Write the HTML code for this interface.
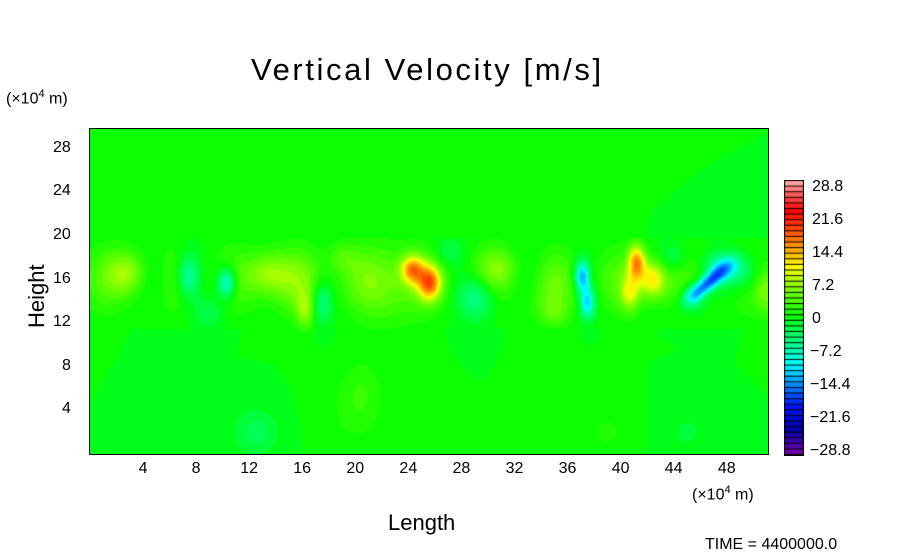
<!DOCTYPE html>
<html><head><meta charset="utf-8">
<style>
body{margin:0;background:#fff;width:904px;height:544px;overflow:hidden;position:relative;font-family:"Liberation Sans","DejaVu Sans",sans-serif;color:#000}
.t{position:absolute;white-space:nowrap}
.tick{font-size:16px}
</style></head>
<body>
<div class="t" style="left:251px;top:52px;font-size:31px;letter-spacing:2.6px">Vertical Velocity [m/s]</div>
<div class="t" style="left:6px;top:88px;font-size:16px">(×10<sup style="font-size:11px">4</sup> m)</div>
<div class="t" style="left:-2px;top:278px;font-size:22px;transform:rotate(-90deg);transform-origin:38px 12px">Height</div>
<div class="t" style="left:388px;top:510px;font-size:22px">Length</div>
<div class="t" style="left:692px;top:484px;font-size:16px">(×10<sup style="font-size:11px">4</sup> m)</div>
<div class="t" style="left:705px;top:536px;font-size:16px">TIME = 4400000.0</div>
<div id="ticks"></div>
<canvas id="plot" width="678" height="325" style="position:absolute;left:90px;top:129px"></canvas>
<div style="position:absolute;left:89px;top:128px;width:678px;height:325px;border:1px solid #000"></div>
<canvas id="cbar" width="20" height="276" style="position:absolute;left:784px;top:180px"></canvas>
<div id="cbl"></div>
<script>
// data
const xTicks=[4,8,12,16,20,24,28,32,36,40,44,48];
const yTicks=[4,8,12,16,20,24,28];
const cbTicks=[28.8,21.6,14.4,7.2,0,-7.2,-14.4,-21.6,-28.8];
// blob features: center x (1e4 m), center height, amplitude (m/s), spread x, spread h
const blobX=[2.8,7.4,10.3,13.3,16.2,17.5,24.3,25.6,22.5,29.2,33,37.1,37.5,41.2,42.4,40.7,46.6,47.8,45.4,51,20,5,34,15,31,49,12.5,20.5,39,45,9,19,27,35,44];
const blobH=[16.6,16.3,15.7,16.6,13.2,13.9,16.9,15.7,15.5,14.4,16,16.3,13.9,17.6,16,14.8,15.7,17.2,14.4,15,4,16,15,16,17,16.5,2,6,2,2,13,18,18.5,13,18];
const blobV=[6,-8,-11,5,6,-6,13,15,4,-7,-3,-14,-12,14,11,8,-16,-7,-7,5,1.5,-3,2.5,3,4,-6,-3,1.5,1.5,-1.5,-3,3,-3,3,-4];
const blobSX=[1.0,0.6,0.5,1.0,0.5,0.5,0.6,0.6,1.6,1.0,1.2,0.4,0.4,0.45,0.7,0.5,0.6,1.0,0.6,0.6,1.6,0.8,1.6,1.6,1.2,1.2,1.2,1.0,1.0,1.0,0.8,0.8,0.8,0.8,0.8];
const blobSH=[1.4,1.4,1.0,1.3,1.2,1.3,0.9,1.1,2.5,1.4,1.8,1.0,1.0,1.1,1.2,1.2,1.1,0.9,0.9,1.4,2.5,1.8,1.8,1.8,1.3,1.3,1.5,2.0,1.3,1.3,1,1,1,1,1];
const layerBase=4; // background positive in active layer 12–20

const X0=90,X1=768,Y0=129,Y1=454,XMAX=51.1,HMAX=29.8;
const sx=v=>X0+(v/XMAX)*(X1-X0);
const sy=v=>Y1-(v/HMAX)*(Y1-Y0);
const tk=document.getElementById('ticks');
xTicks.forEach(v=>{const d=document.createElement('div');d.className='t tick';d.textContent=v;


d.style.left=(sx(v)-(v>=10?9:4.5))+'px';d.style.top='460px';tk.appendChild(d);});
yTicks.forEach(v=>{const d=document.createElement('div');d.className='t tick';d.textContent=v;


d.style.left=(v>=10?53:62)+'px';d.style.top=(sy(v)-10)+'px';tk.appendChild(d);});

const stops=[[-28.8,[110,0,170]],[-24,[0,0,170]],[-19,[0,20,255]],[-14.4,[0,140,255]],[-10,[0,255,255]],[-6,[0,255,150]],[-1,[0,255,40]],[0,[0,255,0]],[3,[60,255,0]],[7.2,[150,255,0]],[10.8,[255,255,0]],[14.4,[255,170,0]],[19,[255,70,0]],[23,[255,0,0]],[26,[255,80,80]],[28.8,[255,160,160]]];
function col(v){if(v<=stops[0][0])return stops[0][1];for(let i=1;i<stops.length;i++){if(v<=stops[i][0]){const a=stops[i-1],b=stops[i],t=(v-a[0])/(b[0]-a[0]);return a[1].map((c,k)=>Math.round(c+(b[1][k]-c)*t));}}return stops[stops.length-1][1];}
const STEP=1.2;
function qcol(v){const l=Math.floor(v/STEP)*STEP+STEP/2;return col(Math.max(-28.8,Math.min(28.8,l)));}

function field(x,h){let v=0;
 if(h<19.8&&h>11.5){v+=layerBase*Math.exp(-Math.pow((h-16)/3,2))*(0.6+0.4*Math.sin(x*1.3));}
 for(let i=0;i<blobX.length;i++){let dx=(x-blobX[i])/blobSX[i],dh=(h-blobH[i])/blobSH[i];
   if(blobV[i]<-15){dx=(x-blobX[i]-(h-blobH[i])*0.75)/blobSX[i];}
   let g=blobV[i]*Math.exp(-(dx*dx+dh*dh)/2);
   if(blobH[i]>10&&h>19.8)g=0;
   v+=g;}
 return v;}
const c=document.getElementById('plot'),ctx=c.getContext('2d');
const img=ctx.createImageData(c.width,c.height);
for(let py=0;py<c.height;py++){const h=HMAX*(1-(py+0.5)/c.height);
 for(let px=0;px<c.width;px++){const x=XMAX*(px+0.5)/c.width;const cc=qcol(field(x,h));const o=(py*c.width+px)*4;
 img.data[o]=cc[0];img.data[o+1]=cc[1];img.data[o+2]=cc[2];img.data[o+3]=255;}}
ctx.putImageData(img,0,0);

const cb=document.getElementById('cbar'),cx=cb.getContext('2d');
const N=48,bh=(cb.height-2)/ (N+1);
cx.fillStyle='#000';cx.fillRect(0,0,cb.width,cb.height);
for(let i=0;i<=N;i++){const v=28.8-i*STEP;const cc=col(Math.max(-28.8,Math.min(28.8,v)));
 cx.fillStyle=`rgb(${cc})`;cx.fillRect(1,1+i*bh,cb.width-2,bh-1);}
const cl=document.getElementById('cbl');
cbTicks.forEach((v,i)=>{const d=document.createElement('div');d.className='t tick';
d.textContent=(v<0?'\u2212'+(-v):String(v));


d.style.left=(v<0?810:812)+'px';d.style.top=(178+i*33)+'px';cl.appendChild(d);});
</script>
</body></html>
